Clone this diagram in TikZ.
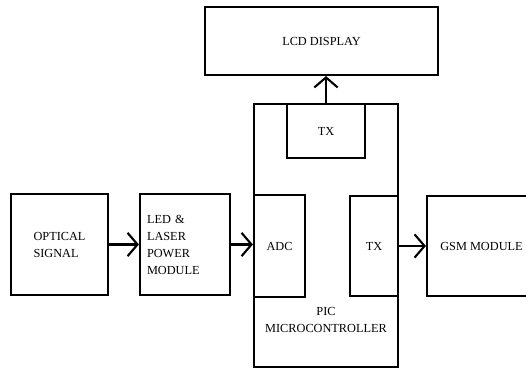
\documentclass[tikz,border=0pt]{standalone}
\usepackage{fontspec}
\setmainfont{Liberation Serif}
\usetikzlibrary{arrows.meta}
\def\pxu{0.03cm}

\begin{document}
\begin{tikzpicture}[
    x=0.03cm, y=-0.03cm,
    box/.style={draw, line width=1.8pt, inner sep=0pt, align=center, font=\fontsize{10.5}{14.5}\selectfont},
    lbl/.style={align=center, inner sep=0pt, font=\fontsize{10.5}{14.5}\selectfont},
    arrow/.style={-{Straight Barb[length=0.3cm, width=0.7cm]}, line width=1.8pt},
]
\clip (0,0) rectangle (526,368);

% Display box
\node[box, minimum width=233*\pxu, minimum height=68*\pxu] (lcd) at (321.5,41) {LCD DISPLAY};

% Microcontroller box
\node[box, minimum width=144*\pxu, minimum height=263*\pxu] (pic) at (326,235.5) {};
\node[lbl] (piclbl) at (326,320) {PIC\\MICROCONTROLLER};

% Blocks inside the microcontroller
\node[box, minimum width=78*\pxu, minimum height=54*\pxu] (txtop) at (326,131) {TX};
\node[box, minimum width=51*\pxu, minimum height=102*\pxu] (adc) at (279.5,246) {ADC};
\node[box, minimum width=48*\pxu, minimum height=100*\pxu] (txright) at (374,246) {TX};

% Input chain
\node[box, align=left, minimum width=97*\pxu, minimum height=101*\pxu] (optical) at (59.5,244.5) {OPTICAL\\SIGNAL};
\node[box, align=left, inner xsep=7*\pxu, text width=76*\pxu, minimum height=101*\pxu] (led) at (185,244.5) {LED \&\\LASER\\POWER\\MODULE};

% GSM box
\node[box, minimum width=109*\pxu, minimum height=100*\pxu] (gsm) at (481.5,246) {GSM MODULE};

% Connection arrows
\draw[arrow] (optical.east) -- (led.west);
\draw[arrow] (led.east) -- (led.east -| adc.west);
\draw[arrow] (txright.east) -- (gsm.west);
\draw[arrow] (txtop.north) -- (txtop.north |- lcd.south);

\end{tikzpicture}
\end{document}
